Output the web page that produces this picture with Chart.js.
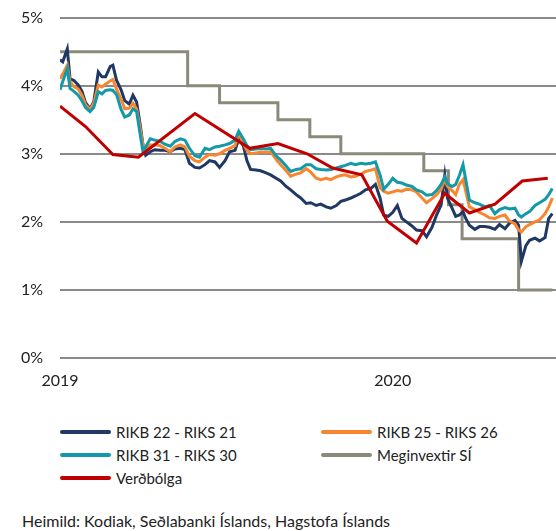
<!DOCTYPE html>
<html>
<head>
<meta charset="utf-8">
<script src="https://cdn.jsdelivr.net/npm/chart.js@4"></script>
<style>
  body { margin: 0; width: 556px; height: 531px; background: #fff; font-family: Lato, sans-serif; color: #222; position: relative; overflow: hidden; }
  #wrap { position: absolute; left: 0; top: -9px; width: 556px; height: 409px; }
  .leg { position: absolute; font-size: 15px; line-height: 20px; white-space: nowrap; }
  .leg i { position: absolute; left: -56px; top: 8px; width: 51px; height: 4px; border-radius: 2px; }
  #source { position: absolute; left: 22px; top: 511px; font-size: 16px; line-height: 20px; white-space: nowrap; }
</style>
</head>
<body>
<div id="wrap"><canvas id="chart"></canvas></div>
<div id="legend"></div>
<div id="source">Heimild: Kodiak, Seðlabanki Íslands, Hagstofa Íslands</div>
<script>
// days counted from 1 Jan 2019
const yearTicks = [0, 365];
const yearLabels = ["2019", "2020"];

const spreadDays = [0, 3, 8, 11, 15, 20, 24, 28, 33, 37, 42, 46, 50, 55, 58, 62, 67, 71, 76, 80,
  84, 88, 91, 94, 99, 104, 110, 115, 121, 126, 132, 137, 142, 148, 153, 159, 164, 170, 175, 181,
  186, 192, 196, 201, 205, 209, 215, 220, 226, 231, 237, 242, 248, 253, 259, 264, 270, 275, 281, 286,
  292, 297, 303, 308, 313, 319, 324, 330, 335, 341, 346, 351, 355, 360, 365, 370, 375, 380, 386, 391,
  397, 402, 408, 413, 418, 422, 425, 430, 434, 438, 442, 445, 449, 455, 460, 466, 471, 477, 482, 488,
  493, 499, 503, 506, 511, 515, 521, 526, 532, 536, 540];

const rikb22 = [4.38, 4.35, 4.54, 4.10, 4.08, 4.01, 3.92, 3.75, 3.66, 3.76, 4.20, 4.13, 4.13, 4.28, 4.30, 4.08, 3.94, 3.78, 3.73, 3.86,
  3.76, 3.42, 3.13, 2.98, 3.03, 3.06, 3.05, 3.05, 3.03, 3.07, 3.08, 3.06, 2.86, 2.80, 2.79, 2.84, 2.90, 2.88, 2.80, 2.90,
  3.03, 3.05, 3.22, 3.12, 2.90, 2.77, 2.76, 2.75, 2.72, 2.69, 2.64, 2.60, 2.52, 2.47, 2.40, 2.35, 2.27, 2.28, 2.24, 2.26,
  2.22, 2.20, 2.24, 2.30, 2.32, 2.35, 2.38, 2.42, 2.47, 2.49, 2.55, 2.35, 2.10, 2.08, 2.14, 2.24, 2.05, 2.00, 1.94, 1.88,
  1.87, 1.78, 1.92, 2.10, 2.25, 2.68, 2.35, 2.20, 2.08, 2.10, 2.15, 2.05, 1.95, 1.89, 1.93, 1.93, 1.92, 1.89, 1.96, 1.90,
  1.98, 2.02, 1.95, 1.42, 1.65, 1.73, 1.76, 1.72, 1.77, 2.05, 2.12];

const rikb25 = [4.10, 4.17, 4.30, 4.06, 3.99, 3.95, 3.86, 3.72, 3.65, 3.74, 4.01, 3.98, 4.02, 4.07, 4.09, 3.95, 3.80, 3.66, 3.67, 3.74,
  3.66, 3.37, 3.13, 3.05, 3.13, 3.13, 3.12, 3.08, 3.03, 3.10, 3.13, 3.10, 2.96, 2.90, 2.88, 2.95, 2.99, 2.98, 3.00, 3.05,
  3.08, 3.12, 3.30, 3.15, 3.05, 3.00, 3.01, 3.03, 3.02, 3.03, 2.92, 2.84, 2.75, 2.67, 2.70, 2.72, 2.78, 2.73, 2.64, 2.62,
  2.64, 2.62, 2.66, 2.68, 2.69, 2.66, 2.67, 2.70, 2.74, 2.76, 2.78, 2.50, 2.45, 2.42, 2.44, 2.46, 2.45, 2.48, 2.47, 2.44,
  2.35, 2.28, 2.34, 2.40, 2.48, 2.62, 2.52, 2.46, 2.40, 2.55, 2.62, 2.45, 2.22, 2.18, 2.14, 2.10, 2.06, 2.05, 2.08, 2.10,
  2.01, 1.97, 1.88, 1.85, 1.93, 1.96, 2.00, 2.03, 2.12, 2.22, 2.35];

const rikb31 = [3.94, 4.06, 4.25, 3.96, 3.92, 3.86, 3.78, 3.68, 3.62, 3.68, 3.91, 3.88, 3.93, 3.94, 3.93, 3.87, 3.65, 3.54, 3.57, 3.66,
  3.62, 3.28, 3.03, 3.10, 3.22, 3.20, 3.18, 3.14, 3.11, 3.18, 3.22, 3.20, 3.08, 2.97, 2.95, 3.08, 3.06, 3.10, 3.11, 3.13,
  3.15, 3.20, 3.33, 3.22, 3.12, 3.06, 3.07, 3.08, 3.07, 3.08, 2.97, 2.91, 2.82, 2.74, 2.77, 2.78, 2.84, 2.84, 2.78, 2.77,
  2.76, 2.77, 2.79, 2.81, 2.83, 2.86, 2.84, 2.86, 2.85, 2.86, 2.88, 2.69, 2.48, 2.55, 2.64, 2.58, 2.57, 2.54, 2.52, 2.47,
  2.44, 2.39, 2.40, 2.46, 2.55, 2.66, 2.56, 2.52, 2.55, 2.68, 2.84, 2.62, 2.32, 2.28, 2.26, 2.22, 2.24, 2.12, 2.18, 2.21,
  2.19, 2.20, 2.10, 2.07, 2.12, 2.15, 2.24, 2.28, 2.33, 2.40, 2.49];

// Meginvextir SÍ, value from each change date
const rateDays = [0, 140, 175, 239, 274, 308, 399, 426, 441, 503, 540];
const policyRate = [4.5, 4.0, 3.75, 3.5, 3.25, 3.0, 2.75, 2.25, 1.75, 1.0, 1.0];

// Verðbólga
const inflDays = [0, 28, 58, 86, 148, 208, 239, 271, 299, 331, 359, 391, 422, 449, 477, 507, 535];
const inflation = [3.70, 3.40, 2.99, 2.95, 3.59, 3.08, 3.15, 3.00, 2.79, 2.69, 2.01, 1.69, 2.42, 2.13, 2.26, 2.60, 2.64];

const names = ["RIKB 22 - RIKS 21", "RIKB 25 - RIKS 26", "RIKB 31 - RIKS 30", "Meginvextir SÍ", "Verðbólga"];
const colors = ["#1f3864", "#f7862e", "#1399a8", "#8b8a7a", "#c00000"];

function pts(xs, ys) {
    return xs.map((x, i) => ({ x: x, y: ys[i] }));
}

const datasets = [
    { label: names[0], data: pts(spreadDays, rikb22), borderColor: colors[0], order: 3 },
    { label: names[1], data: pts(spreadDays, rikb25), borderColor: colors[1], order: 2 },
    { label: names[2], data: pts(spreadDays, rikb31), borderColor: colors[2], order: 1 },
    { label: names[3], data: pts(rateDays, policyRate), borderColor: colors[3], stepped: 'before', order: 4 },
    { label: names[4], data: pts(inflDays, inflation), borderColor: colors[4], order: 0 }
];
datasets.forEach(d => {
    d.borderWidth = 3;
    d.pointRadius = 0;
    d.tension = 0;
    d.fill = false;
});

const font = { family: 'Lato, sans-serif', size: 16 };

new Chart(document.getElementById('chart'), {
    type: 'line',
    data: { datasets: datasets },
    options: {
        responsive: true,
        maintainAspectRatio: false,
        animation: false,
        layout: { padding: { top: 7, right: 0, bottom: 0, left: 0 } },
        plugins: { legend: { display: false }, tooltip: { enabled: false } },
        scales: {
            x: {
                type: 'linear',
                min: 0,
                max: 544,
                grid: { display: false, drawTicks: false },
                border: { display: false },
                afterBuildTicks: s => { s.ticks = yearTicks.map(v => ({ value: v })); },
                afterFit: s => { s.height = 42; },
                ticks: {
                    padding: 13,
                    maxRotation: 0,
                    color: '#222',
                    font: font,
                    callback: v => yearLabels[yearTicks.indexOf(v)]
                }
            },
            y: {
                min: 0,
                max: 5,
                grid: { color: '#8a8a8a', lineWidth: 2, drawTicks: false },
                border: { display: false },
                afterFit: s => { s.width = 60; },
                ticks: {
                    stepSize: 1,
                    padding: 17,
                    color: '#222',
                    font: font,
                    callback: v => v + '%'
                }
            }
        }
    }
});

// legend in two columns, row by row
const legend = document.getElementById('legend');
const colX = [116, 377];
const rowY = [422, 445, 468];
names.forEach((n, i) => {
    const el = document.createElement('div');
    el.className = 'leg';
    el.style.left = colX[i % 2] + 'px';
    el.style.top = rowY[Math.floor(i / 2)] + 'px';
    el.innerHTML = '<i style="background:' + colors[i] + '"></i>' + n;
    legend.appendChild(el);
});
</script>
</body>
</html>
